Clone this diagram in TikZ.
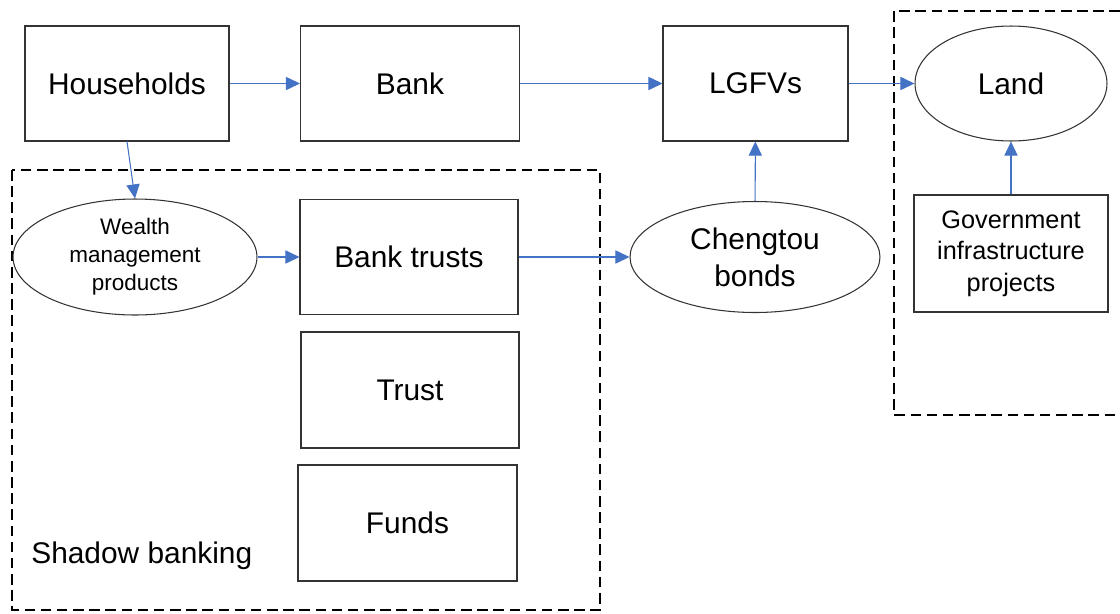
\documentclass[tikz,border=0pt]{standalone}
\usepackage{fontspec}
\setmainfont{Liberation Sans}
\usetikzlibrary{arrows.meta}
\usetikzlibrary{shapes}
\definecolor{pfeilblau}{RGB}{68,114,196}

\begin{document}
\begin{tikzpicture}[x=0.02cm, y=-0.02cm, % Pixelraster, y nach unten
    kasten/.style={draw=black!80, line width=0.6pt, inner sep=0pt, minimum height=2.3cm, align=center, font=\fontsize{17}{21}\selectfont},
    oval/.style={ellipse, draw=black!80, line width=0.6pt, inner sep=0pt, align=center},
    fluss/.style={-{Triangle[length=8pt, width=7.5pt]}, pfeilblau, line width=0.6pt},
    rahmen/.style={line width=1.3pt, dash pattern=on 6pt off 3.2pt}]
    \useasboundingbox (0,0) rectangle (1120,613);
    % Gestrichelte Rahmen
    \draw[rahmen] (12,170) rectangle (600,610);
    \draw[rahmen] (1120,11) -- (894,11) -- (894,415) -- (1120,415);
    % Obere Reihe
    \node[kasten, minimum width=4.08cm] (haushalte) at (127,83.5) {Households};
    \node[kasten, minimum width=4.38cm] (bank) at (410,83.5) {Bank};
    \node[kasten, minimum width=3.7cm] (lgfv) at (755.5,83.5) {LGFVs};
    \node[oval, minimum width=3.84cm, minimum height=2.3cm, font=\fontsize{17}{21}\selectfont] (land) at (1011,83.5) {Land};
    % Schattenbanken
    \node[oval, minimum width=4.88cm, minimum height=2.32cm, font=\fontsize{12.8}{16}\selectfont] (wmp) at (135,257) {Wealth\\management\\products};
    \node[kasten, minimum width=4.36cm] (banktrust) at (409,257) {Bank trusts};
    \node[kasten, minimum width=4.36cm, minimum height=2.32cm] (trust) at (410,390) {Trust};
    \node[kasten, minimum width=4.38cm, minimum height=2.32cm] (funds) at (407.5,523) {Funds};
    \node[anchor=west, inner sep=0pt, font=\fontsize{17}{21}\selectfont] (schatten) at (31,556) {Shadow banking};
    % Anleihen und Projekte
    \node[oval, minimum width=5cm, minimum height=2.22cm, font=\fontsize{17}{21}\selectfont] (chengtou) at (755,257) {Chengtou\\bonds};
    \node[kasten, minimum width=3.88cm, minimum height=2.34cm, font=\fontsize{14.4}{18}\selectfont] (projekte) at (1011,253.5) {Government\\infrastructure\\projects};
    % Pfeile
    \draw[fluss] (haushalte) -- (bank);
    \draw[fluss] (bank) -- (lgfv);
    \draw[fluss] (lgfv) -- (land);
    \draw[fluss] (haushalte.south) -- (wmp.north);
    \draw[fluss] (wmp) -- (banktrust);
    \draw[fluss] (banktrust) -- (chengtou);
    \draw[fluss] (chengtou) -- (lgfv);
    \draw[fluss] (projekte) -- (land);
\end{tikzpicture}
\end{document}
